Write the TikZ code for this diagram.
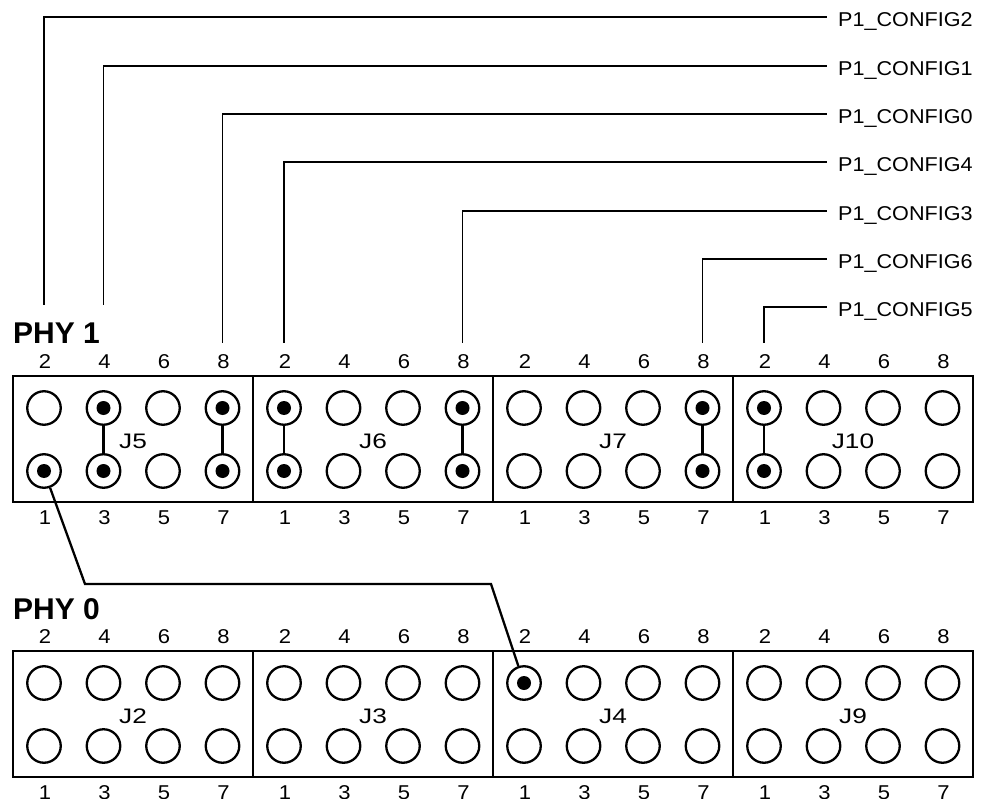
\documentclass[tikz,border=0pt]{standalone}
\usepackage{fontspec}
\setmainfont{Liberation Sans}
\begin{document}
\begin{tikzpicture}[x=1pt,y=-1pt,
  blockbox/.style={draw, line width=2.6pt, minimum width=240pt, minimum height=126pt, inner sep=0pt, outer sep=0pt, anchor=north west},
  pinc/.style={circle, draw, line width=2.3pt, minimum size=33.5pt, inner sep=0pt},
  dotc/.style={circle, fill, minimum size=14pt, inner sep=0pt},
  jumper/.style={line width=2.3pt},
  wire/.style={line width=2.3pt},
  leader/.style={line width=1.4pt},
  num/.style={font=\fontsize{20}{24}\selectfont, inner sep=0pt, anchor=base},
  jlab/.style={font=\fontsize{21}{25}\selectfont, inner sep=0pt, anchor=base},
  cfg/.style={font=\fontsize{20}{24}\selectfont, inner sep=0pt, anchor=base west},
  phy/.style={font=\bfseries\fontsize{30}{36}\selectfont, inner sep=0pt, anchor=west}]

\useasboundingbox[fill=white] (0,0) rectangle (982,799);

% connector blocks with pins and pin numbers
\foreach \b/\L/\T in {J5/13/376, J6/253/376, J7/493/376, J10/733/376,
                      J2/13/651, J3/253/651, J4/493/651, J9/733/651} {
  \node[blockbox] (\b) at (\L,\T) {};
  \node[jlab] (\b-lab) at (\L+120,\T+72) {\scalebox{1.25}[1]{\b}};
  \foreach \c in {0,1,2,3} {
    \pgfmathtruncatemacro\ev{2*\c+2}
    \pgfmathtruncatemacro\od{2*\c+1}
    \node[pinc] (\b-\ev) at (\L+31+59.5*\c, \T+32) {};
    \node[pinc] (\b-\od) at (\L+31+59.5*\c, \T+95) {};
    \node[num] (\b-n\ev) at (\L+32+59.5*\c, \T-8) {\scalebox{1.1}[1]{\ev}};
    \node[num] (\b-n\od) at (\L+32+59.5*\c, \T+148) {\scalebox{1.1}[1]{\od}};
  }
}

% group labels
\node[phy] (phy1) at (13,333) {PHY 1};
\node[phy] (phy0) at (13,609) {PHY 0};

% filled pins
\foreach \p in {J5-1, J5-4, J5-3, J5-8, J5-7, J6-2, J6-1, J6-8, J6-7,
                J7-8, J7-7, J10-2, J10-1, J4-2} {
  \node[dotc] (dot-\p) at (\p) {};
}

% jumpers
\foreach \a/\bb in {J5-4/J5-3, J5-8/J5-7, J6-2/J6-1, J6-8/J6-7, J7-8/J7-7, J10-2/J10-1} {
  \draw[jumper] (\a) -- (\bb);
}

% configuration leaders
\foreach \pin/\cf/\y/\ylow in {J5-2/2/17/305, J5-4/1/66/305, J5-8/0/114/343, J6-2/4/162/343,
                               J6-8/3/211/343, J7-8/6/259/343, J10-2/5/307/343} {
  \node[cfg] (cfg\cf) at (838,\y+10) {\scalebox{1.08}[1]{P1\_CONFIG\cf}};
  \coordinate (cfgend\cf) at (827,\y);
  \path (\pin) ++(0,\ylow-376-32) coordinate (lead\cf);
  \draw[leader] (lead\cf) |- (cfgend\cf);
}

% wire from PHY1 J5 pin 1 to PHY0 J4 pin 2
\coordinate (bendA) at (85,584);
\coordinate (bendB) at (491,584);
\draw[wire] (J5-1) -- (bendA) -- (bendB) -- (J4-2);

\end{tikzpicture}
\end{document}
